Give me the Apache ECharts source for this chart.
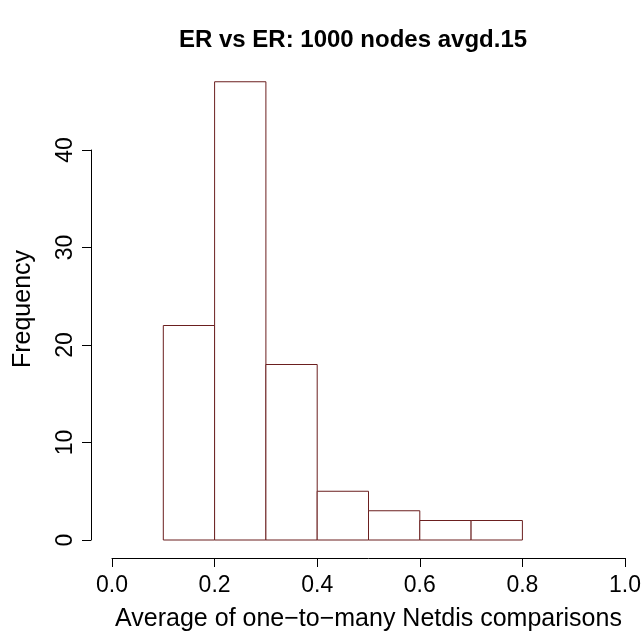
<!DOCTYPE html>
<html>
<head>
<meta charset="utf-8">
<script src="https://cdn.jsdelivr.net/npm/echarts@6/dist/echarts.min.js"></script>
<style>html,body{margin:0;padding:0;background:#fff;}#chart{width:643px;height:636px;}</style>
</head>
<body>
<div id="chart"></div>
<script>
const binStarts = [0.1, 0.2, 0.3, 0.4, 0.5, 0.6, 0.7];
const binEnds   = [0.2, 0.3, 0.4, 0.5, 0.6, 0.7, 0.8];
const counts    = [22, 47, 18, 5, 3, 2, 2];
const xTicks = [0.0, 0.2, 0.4, 0.6, 0.8, 1.0];
const yTicks = [0, 10, 20, 30, 40];

const data = binStarts.map((s, i) => [s, binEnds[i], counts[i]]);
const font = 'Liberation Sans, Arial, Helvetica, sans-serif';

const chart = echarts.init(document.getElementById('chart'), null, {renderer: 'canvas'});
chart.setOption({
  backgroundColor: '#ffffff',
  animation: false,
  title: {
    text: 'ER vs ER: 1000 nodes avgd.15',
    left: 348, top: 23, textAlign: 'center',
    textStyle: {fontFamily: font, fontWeight: 'bold', fontSize: 24, color: '#000'}
  },
  grid: {left: 112, right: 18, top: 150, bottom: 96, outerBoundsMode: 'none', containLabel: false},
  xAxis: {
    type: 'value', min: 0, max: 1, interval: 0.2, offset: 18,
    name: 'Average of one\u2212to\u2212many Netdis comparisons',
    nameLocation: 'middle', nameGap: 49, nameMoveOverlap: false,
    nameTextStyle: {fontFamily: font, fontSize: 25, color: '#000'},
    axisLine: {show: true, onZero: false, lineStyle: {color: '#000', width: 1}},
    axisTick: {show: true, length: 9, lineStyle: {color: '#000'}},
    axisLabel: {fontFamily: font, fontSize: 23, color: '#000', margin: 16,
      formatter: v => xTicks.some(t => Math.abs(t - v) < 1e-9) ? v.toFixed(1) : ''},
    splitLine: {show: false}
  },
  yAxis: {
    type: 'value', min: 0, max: 40, interval: 10, offset: 21,
    name: 'Frequency', nameLocation: 'middle', nameGap: 55, nameMoveOverlap: false,
    nameTextStyle: {fontFamily: font, fontSize: 25, color: '#000', padding: [0, 0, 0, 72]},
    axisLine: {show: true, onZero: false, lineStyle: {color: '#000', width: 1}},
    axisTick: {show: true, length: 9, lineStyle: {color: '#000'}},
    axisLabel: {fontFamily: font, fontSize: 23, color: '#000', rotate: 90, margin: 14,
      formatter: v => yTicks.includes(v) ? String(v) : ''},
    splitLine: {show: false}
  },
  series: [{
    type: 'custom',
    clip: false,
    data: data,
    encode: {x: [0, 1], y: 2},
    renderItem: function (params, api) {
      const p0 = api.coord([api.value(0), 0]);
      const p1 = api.coord([api.value(1), api.value(2)]);
      return {
        type: 'rect',
        shape: {x: p0[0], y: p1[1], width: p1[0] - p0[0], height: p0[1] - p1[1]},
        style: {fill: '#ffffff', stroke: '#6b1f1f', lineWidth: 1}
      };
    }
  }]
});
</script>
</body>
</html>
